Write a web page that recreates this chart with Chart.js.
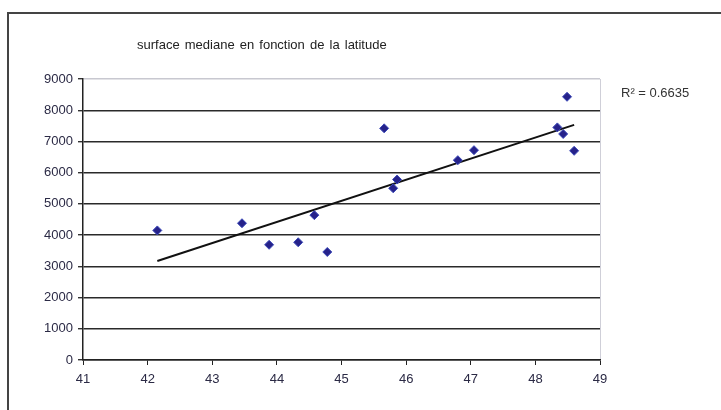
<!DOCTYPE html>
<html>
<head>
<meta charset="utf-8">
<script src="https://cdn.jsdelivr.net/npm/chart.js@4/dist/chart.umd.min.js"></script>
<style>
    html, body { margin: 0; padding: 0; background: #fff; }
    #wrap { position: relative; width: 721px; height: 410px; overflow: hidden; }
    #frame { position: absolute; left: 7px; top: 12px; width: 730px; height: 420px;
             border-top: 2px solid #444; border-left: 2px solid #444; box-sizing: border-box; }
    #title { position: absolute; left: 137px; top: 37px; font: 13px "Liberation Sans", Arial, sans-serif;
             color: #222; word-spacing: 1.5px; white-space: nowrap; }
    #r2 { position: absolute; left: 621px; top: 85px; font: 13px "Liberation Sans", Arial, sans-serif;
          color: #333; white-space: nowrap; }
    canvas { position: absolute; left: 0; top: 0; }
</style>
</head>
<body>
<div id="wrap">
    <div id="frame"></div>
    <canvas id="chart" width="721" height="410"></canvas>
    <div id="title">surface mediane en fonction de la latitude</div>
    <div id="r2">R² = 0.6635</div>
</div>
<script>
// latitude (x) et surface mediane (y)
const latitudes = [42.15, 43.46, 43.88, 44.33, 44.58, 44.78, 45.66, 45.80, 45.86, 46.80, 47.05, 48.34, 48.43, 48.49, 48.60];
const surfaces  = [4150, 4380, 3690, 3770, 4640, 3460, 7420, 5500, 5780, 6400, 6720, 7450, 7240, 8430, 6700];

// droite de tendance (extremites)
const trendX = [42.15, 48.60];
const trendY = [3170, 7530];

const yTicks = [0, 1000, 2000, 3000, 4000, 5000, 6000, 7000, 8000, 9000];
const xTicks = [41, 42, 43, 44, 45, 46, 47, 48, 49];

const points = latitudes.map((x, i) => ({ x: x, y: surfaces[i] }));
const trend = trendX.map((x, i) => ({ x: x, y: trendY[i] }));

const tickFont = { family: '"Liberation Sans", Arial, sans-serif', size: 13 };

new Chart(document.getElementById('chart'), {
    type: 'scatter',
    data: {
        datasets: [
            {
                label: 'surface',
                data: points,
                backgroundColor: '#26228a',
                borderColor: '#3a48b8',
                borderWidth: 1,
                pointStyle: 'rectRot',
                pointRadius: 4.5
            },
            {
                label: 'tendance',
                type: 'line',
                data: trend,
                borderColor: '#111',
                borderWidth: 2,
                pointRadius: 0,
                fill: false
            }
        ]
    },
    options: {
        responsive: false,
        animation: false,
        layout: { padding: { top: 79, right: 121, bottom: 0, left: 0 } },
        plugins: { legend: { display: false }, tooltip: { enabled: false } },
        scales: {
            x: {
                type: 'linear',
                min: 41, max: 49,
                afterFit: (s) => { s.height = 50; },
                afterBuildTicks: (s) => { s.ticks = xTicks.map(v => ({ value: v })); },
                ticks: { color: '#2b2a45', font: tickFont, padding: 7, callback: (v) => String(v) },
                grid: {
                    drawOnChartArea: true,
                    color: (c) => c.tick && c.tick.value === 49 ? '#cfcfd8' : 'rgba(0,0,0,0)',
                    tickColor: '#222',
                    tickLength: 5,
                    lineWidth: 1
                },
                border: { display: true, color: '#222', width: 1.5 }
            },
            y: {
                min: 0, max: 9000,
                afterFit: (s) => { s.width = 83; },
                afterBuildTicks: (s) => { s.ticks = yTicks.map(v => ({ value: v })); },
                ticks: { color: '#2b2a45', font: tickFont, padding: 5, callback: (v) => String(v) },
                grid: {
                    color: (c) => c.tick && c.tick.value === 9000 ? '#c8c8d0' : '#2a2a2a',
                    tickColor: '#333',
                    tickLength: 5,
                    lineWidth: 1.4
                },
                border: { display: true, color: '#222', width: 1.5 }
            }
        }
    }
});
</script>
</body>
</html>
